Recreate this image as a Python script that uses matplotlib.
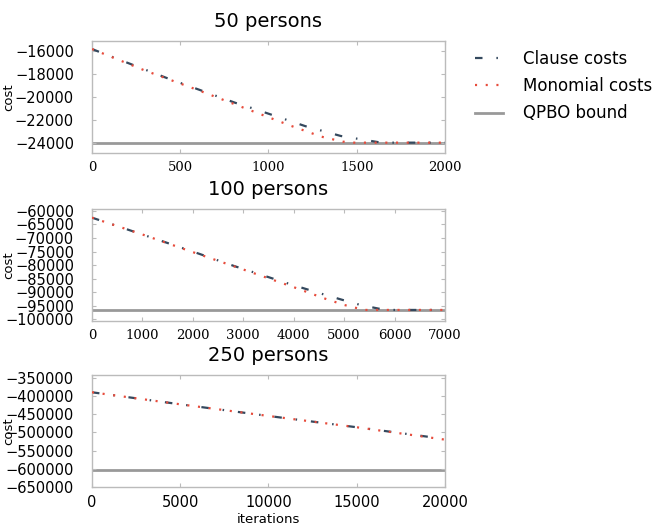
import matplotlib
matplotlib.use("Agg")
import matplotlib.pyplot as plt

plt.rcParams['font.family'] = ['DejaVu Sans']
plt.rcParams['lines.scale_dashes'] = False

titles = ["50 persons", "100 persons", "250 persons"]

# panel 1 (50 persons)
p1_clause_x = [0, 420, 810, 910, 1210, 1410, 1520, 1640, 2000]
p1_clause_y = [-15850, -18350, -20520, -21010, -22570, -23420, -23700, -24000, -24000]
p1_mono_x = [0, 300, 600, 900, 1130, 1300, 1420, 1480, 2000]
p1_mono_y = [-15850, -17720, -19420, -21200, -22550, -23480, -23910, -24000, -24000]
p1_qpbo = -24000

# panel 2 (100 persons)
p2_clause_x = [0, 1000, 2000, 2800, 3930, 4600, 4950, 5310, 5680, 5850, 7000]
p2_clause_y = [-62500, -68700, -75000, -80200, -87000, -90800, -92700, -94600, -96000, -96500, -96500]
p2_mono_x = [0, 1000, 2000, 3000, 4000, 4600, 5000, 5400, 7000]
p2_mono_y = [-62500, -68700, -75200, -81600, -88100, -92200, -94650, -96500, -96500]
p2_qpbo = -96500

# panel 3 (250 persons)
p3_clause_x = [0, 5000, 10000, 15000, 19800]
p3_clause_y = [-390000, -423000, -455000, -486000, -517000]
p3_mono_x = [0, 5000, 10000, 15000, 20000]
p3_mono_y = [-390000, -423000, -455000, -486000, -520000]
p3_qpbo = -604000

xticks = [[0, 500, 1000, 1500, 2000],
          [0, 1000, 2000, 3000, 4000, 5000, 6000, 7000],
          [0, 5000, 10000, 15000, 20000]]
yticks = [[-16000, -18000, -20000, -22000, -24000],
          [-60000, -65000, -70000, -75000, -80000, -85000, -90000, -95000, -100000],
          [-350000, -400000, -450000, -500000, -550000, -600000, -650000]]
xlims = [(0, 2000), (0, 7000), (0, 20000)]
ylims = [(-24900, -15150), (-100550, -59300), (-648000, -342600)]

series = [
    (p1_clause_x, p1_clause_y, p1_mono_x, p1_mono_y, p1_qpbo),
    (p2_clause_x, p2_clause_y, p2_mono_x, p2_mono_y, p2_qpbo),
    (p3_clause_x, p3_clause_y, p3_mono_x, p3_mono_y, p3_qpbo),
]

clause_color = '#34495e'
mono_color = '#e74c3c'
qpbo_color = '#999999'
frame_color = '#bbbbbb'

fig = plt.figure(figsize=(6.56, 5.27), dpi=100)
bottoms = [0.7097, 0.391, 0.0759]
axes = []
for i in range(3):
    ax = fig.add_axes([0.1402, bottoms[i], 0.5381, 0.2125])
    cx, cy, mx, my, q = series[i]
    lq = ax.axhline(q, color=qpbo_color, lw=2.0, zorder=1, label='QPBO bound')
    lc, = ax.plot(cx, cy, color=clause_color, lw=1.6, dashes=(5.4, 10, 1.1, 10),
                  dash_capstyle='butt', zorder=2, label='Clause costs')
    lm, = ax.plot(mx, my, color=mono_color, lw=1.6, dashes=(1.5, 6.2),
                  dash_capstyle='butt', zorder=3, label='Monomial costs')
    ax.set_xlim(*xlims[i])
    ax.set_ylim(*ylims[i])
    ax.set_xticks(xticks[i])
    ax.set_yticks(yticks[i])
    ax.set_title(titles[i], fontsize=14, pad=10)
    for s in ax.spines.values():
        s.set_color(frame_color)
        s.set_linewidth(1.0)
    ax.tick_params(direction='in', length=3, color=frame_color, top=True, right=True,
                   labelsize=10.5)
    ax.tick_params(axis='y', pad=13)
    if i < 2:
        ax.tick_params(axis='x', labelfontfamily='DejaVu Serif', labelsize=9.5, pad=6)
    else:
        ax.tick_params(axis='x', pad=6)
    ax.set_ylabel('cost', fontsize=9.5)
    ax.yaxis.set_label_coords(-0.218, 0.5)
    axes.append(ax)

axes[2].set_xlabel('iterations', fontsize=9.5, labelpad=2)

fig.legend(handles=[lc, lm, lq], loc='upper left',
           bbox_to_anchor=(475 / 656, 1 - 50 / 527), frameon=False, fontsize=12,
           borderpad=0, borderaxespad=0, handlelength=1.7, handletextpad=1.2,
           labelspacing=0.55)

fig.savefig('out.png', dpi=100)
